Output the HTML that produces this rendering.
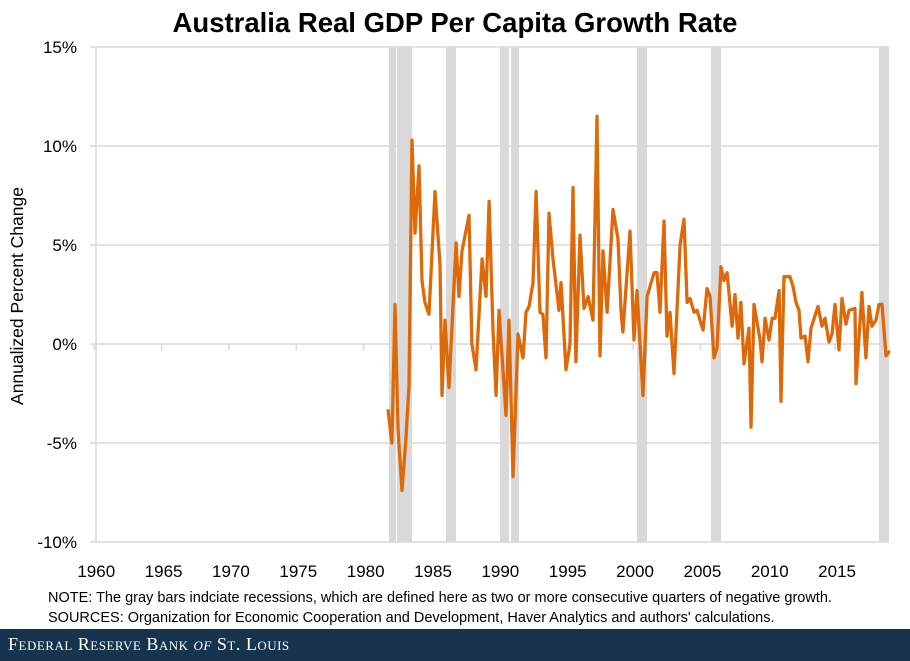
<!DOCTYPE html>
<html><head><meta charset="utf-8">
<style>
body{margin:0;background:#fff;font-family:"Liberation Sans",sans-serif;}
#wrap{position:relative;width:910px;height:661px;overflow:hidden;}
#footer{position:absolute;left:0;top:629px;width:910px;height:32px;background:#17344f;color:#fff;}
#footer span{position:absolute;left:8px;top:5px;font-family:"Liberation Serif",serif;font-size:18px;letter-spacing:0.5px;font-variant:small-caps;}
</style></head><body>
<div id="wrap">
<svg id="chart" width="910" height="629" style="position:absolute;left:0;top:0">
<text x="455" y="32" text-anchor="middle" font-size="27.5" font-weight="bold" fill="#000">Australia Real GDP Per Capita Growth Rate</text>
<text transform="translate(23,296) rotate(-90)" text-anchor="middle" font-size="17.5" fill="#000">Annualized Percent Change</text>
<g id="rec"></g>
<g id="grid"></g>
<g id="xt"></g>
<g id="yt"></g>
<path id="line" fill="none" stroke="#dd6a0a" stroke-width="3.3" stroke-linejoin="round"/>
<text x="48" y="602" font-size="14.5" fill="#000">NOTE: The gray bars indciate recessions, which are defined here as two or more consecutive quarters of negative growth.</text>
<text x="48" y="622" font-size="14.5" fill="#000">SOURCES: Organization for Economic Cooperation and Development, Haver Analytics and authors' calculations.</text>
</svg>
<div id="footer"><span>Federal Reserve Bank <i>of</i> St. Louis</span></div>
</div>
<script>
const years=[1981.81,1982.10,1982.33,1982.55,1982.85,1983.14,1983.37,1983.59,1983.81,1984.11,1984.33,1984.55,1984.85,1985.30,1985.67,1985.82,1986.04,1986.34,1986.86,1987.08,1987.30,1987.82,1988.04,1988.34,1988.79,1989.08,1989.31,1989.60,1989.83,1990.05,1990.57,1990.79,1991.09,1991.46,1991.83,1992.05,1992.28,1992.57,1992.80,1993.09,1993.31,1993.54,1993.76,1994.06,1994.50,1994.65,1995.02,1995.32,1995.54,1995.76,1996.06,1996.36,1996.66,1997.03,1997.32,1997.55,1997.77,1998.07,1998.51,1998.88,1999.11,1999.25,1999.77,2000.07,2000.29,2000.74,2001.04,2001.56,2001.78,2002.00,2002.30,2002.52,2002.74,2003.04,2003.49,2003.78,2004.01,2004.23,2004.53,2004.75,2005.20,2005.49,2005.71,2006.01,2006.23,2006.53,2006.75,2006.98,2007.35,2007.57,2007.79,2008.01,2008.24,2008.61,2008.76,2008.98,2009.43,2009.57,2009.80,2010.09,2010.32,2010.54,2010.84,2010.98,2011.21,2011.65,2011.88,2012.10,2012.32,2012.47,2012.77,2012.99,2013.21,2013.73,2014.03,2014.25,2014.55,2014.77,2014.99,2015.29,2015.51,2015.81,2016.03,2016.48,2016.55,2016.99,2017.29,2017.52,2017.74,2018.04,2018.26,2018.48,2018.78,2019.00,2019.08];
const values=[-3.3,-5.0,2.0,-4.3,-7.4,-4.8,-2.1,10.3,5.6,9.0,3.2,2.1,1.5,7.7,4.0,-2.6,1.2,-2.2,5.1,2.4,4.7,6.5,0,-1.3,4.3,2.4,7.2,0.7,-2.6,1.7,-3.6,1.2,-6.7,0.5,-0.7,1.6,1.9,3.1,7.7,1.6,1.5,-0.7,6.6,4.3,1.7,3.1,-1.3,0,7.9,-0.9,5.5,1.8,2.4,1.2,11.5,-0.6,4.7,1.6,6.8,5.3,1.6,0.6,5.7,0.2,2.7,-2.6,2.4,3.6,3.6,1.6,6.2,0.4,1.6,-1.5,5.0,6.3,2.1,2.3,1.6,1.7,0.7,2.8,2.4,-0.7,-0.2,3.9,3.2,3.6,0.9,2.5,0.3,2.1,-1.0,0.8,-4.2,2.0,0.2,-0.9,1.3,0.2,1.3,1.3,2.7,-2.9,3.4,3.4,2.9,2.1,1.7,0.3,0.4,-0.9,0.8,1.9,0.9,1.3,0.1,0.5,2.0,-0.3,2.3,1.0,1.7,1.8,-2.0,2.6,-0.7,1.9,0.9,1.2,2.0,2.0,-0.6,-0.4,-0.4];
const recStart=[1981.88,1982.48,1986.11,1990.12,1990.94,2000.29,2005.79,2018.26];
const recEnd=[1982.40,1983.59,1986.86,1990.79,1991.53,2001.04,2006.53,2019.00];
const yTicks=[15,10,5,0,-5,-10];
const yTickLabels=["15%","10%","5%","0%","-5%","-10%"];
const xTicks=[1960,1965,1970,1975,1980,1985,1990,1995,2000,2005,2010,2015];
const NS='http://www.w3.org/2000/svg';
function X(y){return 431+(y-1985)*13.47;}
function Y(v){return 344-v*19.8;}
function mk(t,a,p){const e=document.createElementNS(NS,t);for(const k in a)e.setAttribute(k,a[k]);document.getElementById(p).appendChild(e);return e;}
recStart.forEach((s,i)=>{const r=mk('rect',{x:X(s),y:Y(15),width:X(recEnd[i])-X(s),height:Y(-10)-Y(15),fill:'#d9d9d9'},'rec');

});
yTicks.forEach((v,i)=>{const l=mk('line',{x1:90,x2:889,y1:Y(v),y2:Y(v),stroke:'#d9d9d9','stroke-width':1.5},'grid');


const t=mk('text',{x:77,y:Y(v)+6,'text-anchor':'end','font-size':17,fill:'#000'},'yt');t.textContent=yTickLabels[i];

});
const ax=mk('line',{x1:96,x2:96,y1:Y(15),y2:Y(-10),stroke:'#d9d9d9','stroke-width':1.5},'grid');


xTicks.forEach(v=>{const tk=mk('line',{x1:X(v),x2:X(v),y1:Y(0),y2:Y(0)+6,stroke:'#d9d9d9','stroke-width':1.5},'xt');


const t=mk('text',{x:X(v)+2,y:577,'text-anchor':'middle','font-size':17,fill:'#000'},'xt');t.textContent=v;

});
document.getElementById('line').setAttribute('d',years.map((y,i)=>(i?'L':'M')+X(y).toFixed(1)+','+Y(values[i]).toFixed(1)).join(''));
</script>
</body></html>
